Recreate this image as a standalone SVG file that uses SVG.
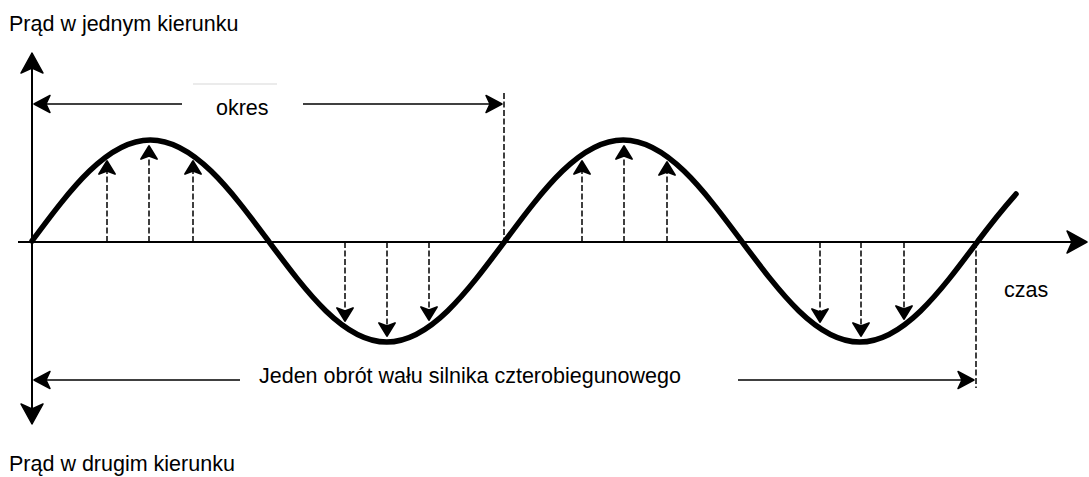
<svg xmlns="http://www.w3.org/2000/svg" width="1089" height="477" viewBox="0 0 1089 477">
<style>
text{font-family:"Liberation Sans",Arial,sans-serif;font-size:21.5px;fill:#000}
.ax{stroke:#000;stroke-width:2;fill:none}
.ln{stroke:#000;stroke-width:1.5;fill:none}
.ds{stroke:#000;stroke-width:1.5;fill:none;stroke-dasharray:6 2.5}
.wave{stroke:#000;stroke-width:5.5;fill:none;stroke-linecap:round;stroke-linejoin:round}
</style>
<defs>
<marker id="big" markerUnits="userSpaceOnUse" markerWidth="30" markerHeight="30" refX="0" refY="0" orient="auto" overflow="visible">
<path d="M0,0 L-20,-11 L-15,0 L-20,11 Z" fill="#000" stroke="#000" stroke-width="1.5" stroke-linejoin="round"/>
</marker>
<marker id="med" markerUnits="userSpaceOnUse" markerWidth="20" markerHeight="20" refX="0" refY="0" orient="auto" overflow="visible">
<path d="M0,0 L-16,-8.5 L-12,0 L-16,8.5 Z" fill="#000" stroke="#000" stroke-width="1.5" stroke-linejoin="round"/>
</marker>
<marker id="sm" markerUnits="userSpaceOnUse" markerWidth="20" markerHeight="20" refX="0" refY="0" orient="auto" overflow="visible">
<path d="M0,0 L-13,-8 L-10,0 L-13,8 Z" fill="#000" stroke="#000" stroke-width="1.8" stroke-linejoin="round"/>
</marker>
</defs>
<g id="axes">
<line class="ax" x1="32" y1="242" x2="32" y2="53" marker-end="url(#big)"/>
<line class="ax" x1="32" y1="242" x2="32" y2="424" marker-end="url(#big)"/>
<line class="ax" x1="18" y1="242" x2="1087" y2="242" marker-end="url(#big)"/>
</g>
<g id="connectors">
<line class="ds" x1="504" y1="93" x2="504" y2="242"/>
<line class="ds" x1="976" y1="242" x2="976" y2="388"/>
<line class="ln" x1="182" y1="104" x2="34" y2="104" marker-end="url(#med)"/>
<line class="ln" x1="303" y1="104" x2="502" y2="104" marker-end="url(#med)"/>
<line class="ln" x1="240" y1="380" x2="34" y2="380" marker-end="url(#med)"/>
<line class="ln" x1="738" y1="380" x2="974" y2="380" marker-end="url(#med)"/>
<line x1="193" y1="84" x2="277" y2="84" stroke="#e4e4e4" stroke-width="1.5"/>
<line class="ds" x1="107" y1="242" x2="107" y2="161" marker-end="url(#sm)"/>
<line class="ds" x1="149" y1="242" x2="149" y2="146" marker-end="url(#sm)"/>
<line class="ds" x1="193" y1="242" x2="193" y2="161" marker-end="url(#sm)"/>
<line class="ds" x1="345" y1="242" x2="345" y2="321" marker-end="url(#sm)"/>
<line class="ds" x1="387" y1="242" x2="387" y2="336" marker-end="url(#sm)"/>
<line class="ds" x1="429" y1="242" x2="429" y2="320" marker-end="url(#sm)"/>
<line class="ds" x1="582" y1="242" x2="582" y2="161" marker-end="url(#sm)"/>
<line class="ds" x1="624" y1="242" x2="624" y2="146" marker-end="url(#sm)"/>
<line class="ds" x1="667" y1="242" x2="667" y2="162" marker-end="url(#sm)"/>
<line class="ds" x1="820" y1="242" x2="820" y2="322" marker-end="url(#sm)"/>
<line class="ds" x1="861" y1="242" x2="861" y2="336" marker-end="url(#sm)"/>
<line class="ds" x1="904" y1="242" x2="904" y2="319" marker-end="url(#sm)"/>
</g>
<g id="wave">
<path class="wave" d="M32,241 C70.5,189.3 107.2,140 150.25,140 C193.3,140 230,189.3 268.5,241 C307,292.7 343.7,342 386.75,342 C429.8,342 466.5,292.7 505,241 C543.5,189.3 580.2,140 623.25,140 C666.3,140 703,189.3 741.5,241 C780,292.7 816.7,342 859.75,342 C902.8,342 939.5,292.7 978,241 Q997,215.5 1016,194"/>
</g>
<g id="labels">
<text x="9" y="31">Prąd w jednym kierunku</text>
<text x="9" y="471">Prąd w drugim kierunku</text>
<text x="216" y="115">okres</text>
<text x="259" y="383">Jeden obrót wału silnika czterobiegunowego</text>
<text x="1004" y="297">czas</text>
</g>
</svg>
